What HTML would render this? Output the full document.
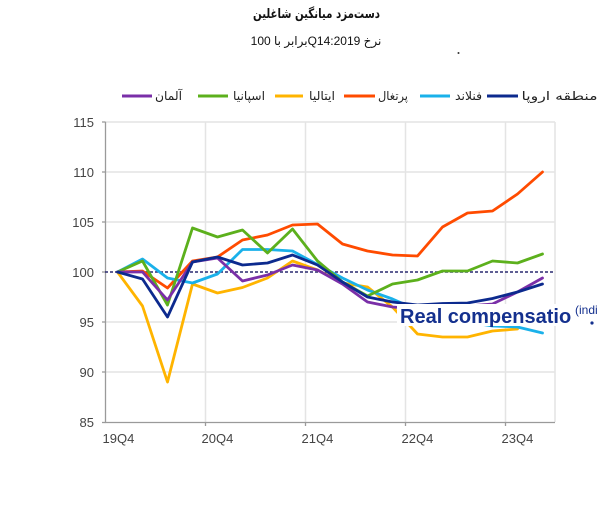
<!DOCTYPE html>
<html><head><meta charset="utf-8"><style>
html,body{margin:0;padding:0;background:#fff;}
svg{display:block;}
</style></head><body>
<svg width="602" height="520" viewBox="0 0 602 520" xmlns="http://www.w3.org/2000/svg">
<rect width="602" height="520" fill="#fff"/>
<!-- title -->
<text x="316.5" y="18" text-anchor="middle" direction="rtl" font-family="DejaVu Sans, sans-serif" font-weight="bold" font-size="13" fill="#111" textLength="127" lengthAdjust="spacingAndGlyphs">دست‌مزد میانگین شاغلین</text>
<text x="316" y="45" text-anchor="middle" direction="rtl" font-family="Liberation Sans, DejaVu Sans, sans-serif" font-size="12" fill="#111">نرخ Q14:2019برابر با 100</text>
<circle cx="458.5" cy="53" r="1" fill="#333"/>
<!-- legend -->
<g stroke-width="3" fill="none">
<line x1="122" y1="96" x2="152" y2="96" stroke="#7a2fa8"/>
<line x1="198" y1="96" x2="228" y2="96" stroke="#5cb01c"/>
<line x1="275" y1="96" x2="303" y2="96" stroke="#ffb400"/>
<line x1="344" y1="96" x2="375" y2="96" stroke="#ff4b00"/>
<line x1="420" y1="96" x2="450" y2="96" stroke="#1ab1ea"/>
<line x1="487" y1="96" x2="518" y2="96" stroke="#0c2a8e"/>
</g>
<g font-family="DejaVu Sans, sans-serif" font-size="12" fill="#222" text-anchor="middle" direction="rtl">
<text x="168.5" y="100" textLength="27" lengthAdjust="spacingAndGlyphs">آلمان</text>
<text x="249" y="100" textLength="32" lengthAdjust="spacingAndGlyphs">اسپانیا</text>
<text x="322" y="100" textLength="26" lengthAdjust="spacingAndGlyphs">ایتالیا</text>
<text x="393" y="100" textLength="30" lengthAdjust="spacingAndGlyphs">پرتغال</text>
<text x="468.5" y="100" textLength="27" lengthAdjust="spacingAndGlyphs">فنلاند</text>
<text x="559.5" y="100" textLength="76" lengthAdjust="spacingAndGlyphs">منطقه اروپا</text>
</g>
<!-- grid -->
<g stroke="#e4e4e4" stroke-width="1.5" fill="none">
<line x1="105" y1="122" x2="555" y2="122"/>
<line x1="105" y1="172" x2="555" y2="172"/>
<line x1="105" y1="222" x2="555" y2="222"/>
<line x1="105" y1="322" x2="555" y2="322"/>
<line x1="105" y1="372" x2="555" y2="372"/>
<line x1="205.5" y1="122" x2="205.5" y2="422"/>
<line x1="305.5" y1="122" x2="305.5" y2="422"/>
<line x1="405.5" y1="122" x2="405.5" y2="422"/>
<line x1="505.5" y1="122" x2="505.5" y2="422"/>
<line x1="555" y1="122" x2="555" y2="422"/>
</g>
<!-- axes -->
<g stroke="#9a9a9a" stroke-width="1.3" fill="none">
<line x1="105.5" y1="122" x2="105.5" y2="422.5"/>
<line x1="105" y1="422.5" x2="555" y2="422.5"/>
<line x1="102" y1="122" x2="105.5" y2="122"/>
<line x1="102" y1="172" x2="105.5" y2="172"/>
<line x1="102" y1="222" x2="105.5" y2="222"/>
<line x1="102" y1="272" x2="105.5" y2="272"/>
<line x1="102" y1="322" x2="105.5" y2="322"/>
<line x1="102" y1="372" x2="105.5" y2="372"/>
<line x1="102" y1="422.5" x2="105.5" y2="422.5"/>
<line x1="205.5" y1="422.5" x2="205.5" y2="426"/>
<line x1="305.5" y1="422.5" x2="305.5" y2="426"/>
<line x1="405.5" y1="422.5" x2="405.5" y2="426"/>
<line x1="505.5" y1="422.5" x2="505.5" y2="426"/>
</g>
<g font-family="Liberation Sans, sans-serif" font-size="13" fill="#444" text-anchor="end">
<text x="94" y="127">115</text>
<text x="94" y="177">110</text>
<text x="94" y="227">105</text>
<text x="94" y="277">100</text>
<text x="94" y="327">95</text>
<text x="94" y="377">90</text>
<text x="94" y="427">85</text>
</g>
<g font-family="Liberation Sans, sans-serif" font-size="13" fill="#444">
<text x="102.5" y="443">19Q4</text>
<text x="201.5" y="443">20Q4</text>
<text x="301.5" y="443">21Q4</text>
<text x="401.5" y="443">22Q4</text>
<text x="501.5" y="443">23Q4</text>
</g>
<!-- reference line -->
<line x1="105" y1="272" x2="555" y2="272" stroke="#2a2a70" stroke-width="1.5" stroke-dasharray="3,2"/>
<!-- series -->
<g fill="none" stroke-width="2.8" stroke-linejoin="round" stroke-linecap="round">
<polyline stroke="#ff4b00" points="117.5,272 142.5,271 167.5,288 192.5,261 217.5,257 242.5,240 267.5,235 292.5,225 317.5,224 342.5,244 367.5,251 392.5,255 417.5,256 442.5,227 467.5,213 492.5,211 517.5,194 542.5,172"/>
<polyline stroke="#ffb400" points="117.5,272 142.5,306 167.5,382 192.5,284 217.5,293 242.5,287.5 267.5,278 292.5,261 317.5,270 342.5,283 367.5,287 392.5,307 417.5,334 442.5,337 467.5,337 492.5,331 517.5,329"/>
<polyline stroke="#1ab1ea" points="117.5,272 142.5,259 167.5,278 192.5,283 217.5,274 242.5,249.5 267.5,249.5 292.5,251 317.5,264.5 342.5,278 367.5,290 392.5,299 417.5,310 442.5,318 467.5,322 492.5,326 517.5,327 542.5,333"/>
<polyline stroke="#5cb01c" points="117.5,272 142.5,261 167.5,305 192.5,228 217.5,237 242.5,230 267.5,253 292.5,229 317.5,261 342.5,282 367.5,296 392.5,284 417.5,280 442.5,271 467.5,271 492.5,261 517.5,263 542.5,254"/>
<polyline stroke="#7a2fa8" points="117.5,272 142.5,272 167.5,300 192.5,262 217.5,258 242.5,281 267.5,275 292.5,265 317.5,270 342.5,284 367.5,302 392.5,307 417.5,309 442.5,307 467.5,306 492.5,304 517.5,292 542.5,278"/>
<polyline stroke="#0c2a8e" points="117.5,272 142.5,279 167.5,317 192.5,262 217.5,257 242.5,265 267.5,263 292.5,255 317.5,265 342.5,282 367.5,297 392.5,302 417.5,305 442.5,303.5 467.5,303 492.5,298.5 517.5,292 542.5,284"/>
</g>
<!-- overlay label -->
<rect x="397" y="304" width="205" height="22" fill="#fff"/>
<text x="400" y="323" font-family="Liberation Sans, sans-serif" font-weight="bold" font-size="20" fill="#14308e">Real compensatio</text>
<rect x="572" y="298" width="30" height="28" fill="#fff"/>
<text x="575" y="314" font-family="Liberation Sans, sans-serif" font-size="12" fill="#14308e">(indi</text>
<circle cx="592" cy="323" r="1.6" fill="#14308e"/>
</svg>
</body></html>
